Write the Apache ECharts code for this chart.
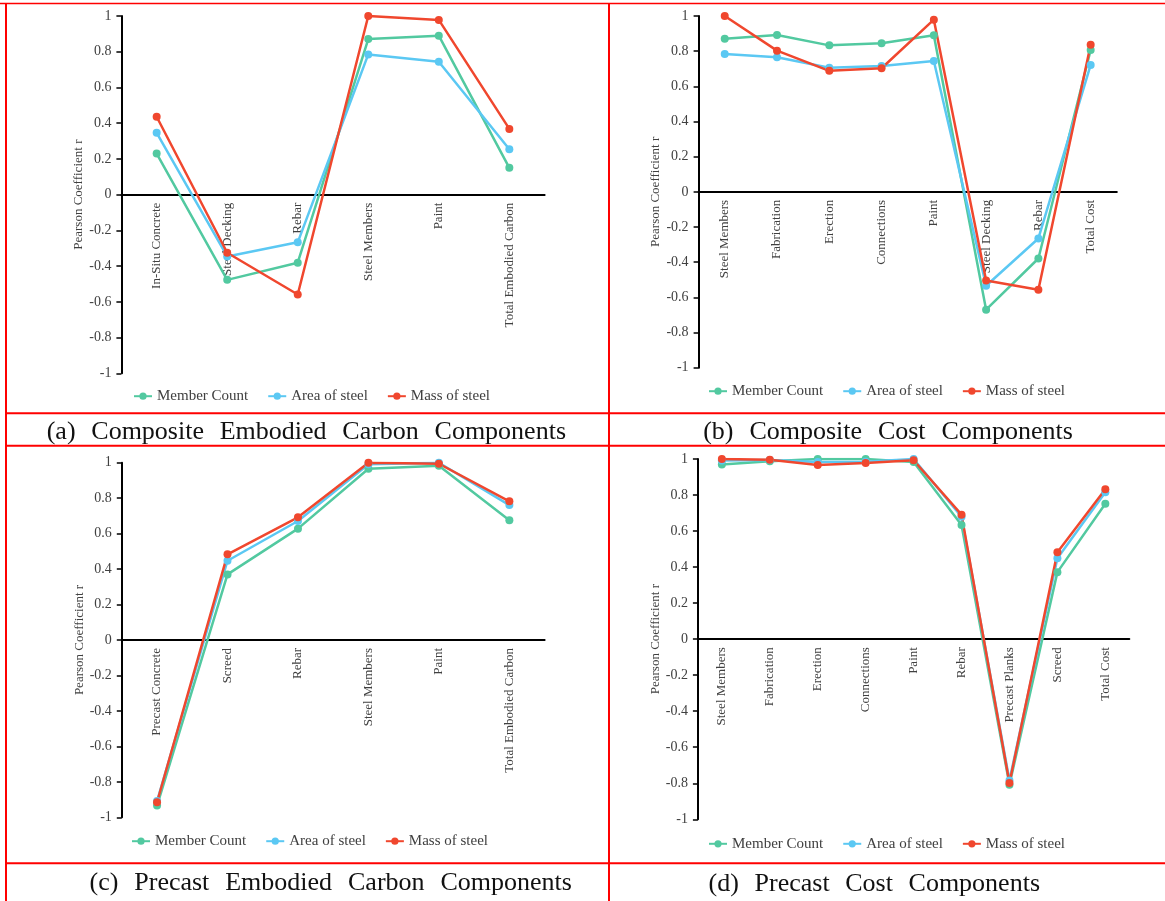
<!DOCTYPE html>
<html>
<head>
<meta charset="utf-8">
<script src="https://cdn.jsdelivr.net/npm/echarts@6/dist/echarts.min.js"></script>
<style>
  html, body { margin: 0; padding: 0; background: #ffffff; }
  #chart { width: 1165px; height: 901px; }
</style>
</head>
<body>
<div id="chart"></div>
<script>
// Pearson correlation of each cost / carbon component against three steel measures
const seriesNames = ['Member Count', 'Area of steel', 'Mass of steel'];
const seriesColors = ['#52C9A0', '#5BC8F3', '#F0472E'];

// (a) composite embodied carbon
const catsA = ['In-Situ Concrete', 'Steel Decking', 'Rebar', 'Steel Members', 'Paint', 'Total Embodied Carbon'];
const memberA = [0.230, -0.477, -0.381, 0.871, 0.890, 0.150];
const areaA   = [0.346, -0.346, -0.267, 0.785, 0.744, 0.254];
const massA   = [0.436, -0.325, -0.559, 1.000, 0.978, 0.368];

// (b) composite cost
const catsB = ['Steel Members', 'Fabrication', 'Erection', 'Connections', 'Paint', 'Steel Decking', 'Rebar', 'Total Cost'];
const memberB = [0.871, 0.892, 0.833, 0.845, 0.890, -0.670, -0.379, 0.807];
const areaB   = [0.784, 0.765, 0.706, 0.716, 0.744, -0.534, -0.265, 0.722];
const massB   = [1.000, 0.803, 0.688, 0.703, 0.979, -0.504, -0.557, 0.837];

// (c) precast embodied carbon
const catsC = ['Precast Concrete', 'Screed', 'Rebar', 'Steel Members', 'Paint', 'Total Embodied Carbon'];
const memberC = [-0.934, 0.370, 0.628, 0.966, 0.983, 0.675];
const areaC   = [-0.908, 0.447, 0.671, 0.991, 1.000, 0.761];
const massC   = [-0.915, 0.483, 0.692, 1.000, 0.994, 0.782];

// (d) precast cost
const catsD = ['Steel Members', 'Fabrication', 'Erection', 'Connections', 'Paint', 'Rebar', 'Precast Planks', 'Screed', 'Total Cost'];
const memberD = [0.969, 0.987, 1.000, 1.000, 0.983, 0.634, -0.808, 0.372, 0.752];
const areaD   = [0.991, 0.994, 0.983, 0.985, 1.000, 0.680, -0.784, 0.449, 0.815];
const massD   = [1.000, 0.996, 0.967, 0.978, 0.993, 0.691, -0.799, 0.482, 0.832];

const captions = [
  '(a) Composite Embodied Carbon Components',
  '(b) Composite Cost Components',
  '(c) Precast Embodied Carbon Components',
  '(d) Precast Cost Components'
];

const yMin = -1, yMax = 1, yStep = 0.2;
const yAxisName = 'Pearson Coefficient r';

const SERIF = '"Liberation Serif", "Times New Roman", serif';
const TEXT = '#404040';

// panel geometry (pixels)
const panels = [
  { cats: catsA, vals: [memberA, areaA, massA],
    grid: { left: 121.4, top: 16, width: 423.2, height: 357.3 },
    legend: { left: 133, cy: 396.7 }, cap: { x0: 46.7, x1: 566, cy: 432 } },
  { cats: catsB, vals: [memberB, areaB, massB],
    grid: { left: 698.6, top: 16, width: 418.2, height: 351.7 },
    legend: { left: 708, cy: 391.7 }, cap: { x0: 703.2, x1: 1072.9, cy: 431.7 } },
  { cats: catsC, vals: [memberC, areaC, massC],
    grid: { left: 121.8, top: 462.7, width: 422.8, height: 354.6 },
    legend: { left: 131, cy: 841.7 }, cap: { x0: 89.5, x1: 571.9, cy: 883.3 } },
  { cats: catsD, vals: [memberD, areaD, massD],
    grid: { left: 697.9, top: 459, width: 431.4, height: 360.3 },
    legend: { left: 708, cy: 844.3 }, cap: { x0: 708.6, x1: 1040, cy: 884 } }
];

// justified caption words
const measureCtx = document.createElement('canvas').getContext('2d');
const CAP_SIZE = 26;
measureCtx.font = CAP_SIZE + 'px ' + SERIF;
function captionWords(text, cap) {
  const words = text.split(' ');
  const widths = words.map(w => measureCtx.measureText(w).width);
  const total = widths.reduce((s, w) => s + w, 0);
  const gap = (cap.x1 - cap.x0 - total) / (words.length - 1);
  let x = cap.x0;
  return words.map((w, i) => {
    const el = {
      type: 'text', x: x, y: cap.cy,
      style: { text: w, font: CAP_SIZE + 'px ' + SERIF, fill: '#111111',
               textAlign: 'left', textVerticalAlign: 'middle' }
    };
    x += widths[i] + gap;
    return el;
  });
}

const grids = [], xAxes = [], yAxes = [], series = [], legends = [], graphics = [];

panels.forEach((p, i) => {
  grids.push(Object.assign({ containLabel: false, outerBoundsMode: 'none' }, p.grid));
  // the value range is symmetric, so the category axis (line + labels) sits at mid-height
  const zeroShift = p.grid.height * (0 - yMin) / (yMax - yMin);
  xAxes.push({
    type: 'category', gridIndex: i, data: p.cats, boundaryGap: true,
    position: 'bottom', offset: -zeroShift,
    axisLine: { onZero: false, lineStyle: { color: '#000000', width: 2 } },
    axisTick: { show: false },
    axisLabel: { rotate: 90, interval: 0, margin: 8, color: TEXT, fontFamily: SERIF, fontSize: 13 },
    splitLine: { show: false }
  });
  yAxes.push({
    type: 'value', gridIndex: i, min: yMin, max: yMax, interval: yStep,
    name: yAxisName, nameLocation: 'middle', nameGap: 36,
    nameTextStyle: { color: TEXT, fontFamily: SERIF, fontSize: 13 },
    axisLine: { show: true, lineStyle: { color: '#000000', width: 2 } },
    axisTick: { show: true, inside: false, length: 5, lineStyle: { color: '#000000', width: 1.5 } },
    axisLabel: { margin: 10, color: TEXT, fontFamily: SERIF, fontSize: 14 },
    splitLine: { show: false }
  });
  p.vals.forEach((v, k) => {
    series.push({
      type: 'line', name: seriesNames[k], xAxisIndex: i, yAxisIndex: i, data: v,
      symbol: 'circle', symbolSize: 8, showSymbol: true,
      itemStyle: { color: seriesColors[k] },
      lineStyle: { color: seriesColors[k], width: 2.5 },
      emphasis: { disabled: true }
    });
  });
  legends.push({
    left: p.legend.left, top: p.legend.cy - 8, orient: 'horizontal', padding: 0,
    itemWidth: 18, itemHeight: 9, itemGap: 19,
    data: seriesNames,
    textStyle: { color: TEXT, fontFamily: SERIF, fontSize: 15 },
    selectedMode: false
  });
  graphics.push(...captionWords(captions[i], p.cap));
});

// table rules framing the four panels
const RED = '#FF0000';
function rule(x1, y1, x2, y2, w) {
  return { type: 'line', shape: { x1, y1, x2, y2 }, style: { stroke: RED, lineWidth: w }, z: 100 };
}
graphics.push(
  rule(0, 3.5, 1165, 3.5, 1.5),
  rule(6, 3, 6, 901, 2),
  rule(609, 3, 609, 901, 2),
  rule(5, 413.3, 1165, 413.3, 2),
  rule(5, 445.7, 1165, 445.7, 2),
  rule(5, 863.3, 1165, 863.3, 2)
);

const chart = echarts.init(document.getElementById('chart'), null, { renderer: 'canvas' });
chart.setOption({
  animation: false,
  backgroundColor: '#ffffff',
  textStyle: { fontFamily: SERIF },
  grid: grids, xAxis: xAxes, yAxis: yAxes, series: series, legend: legends,
  graphic: graphics
});
</script>
</body>
</html>
